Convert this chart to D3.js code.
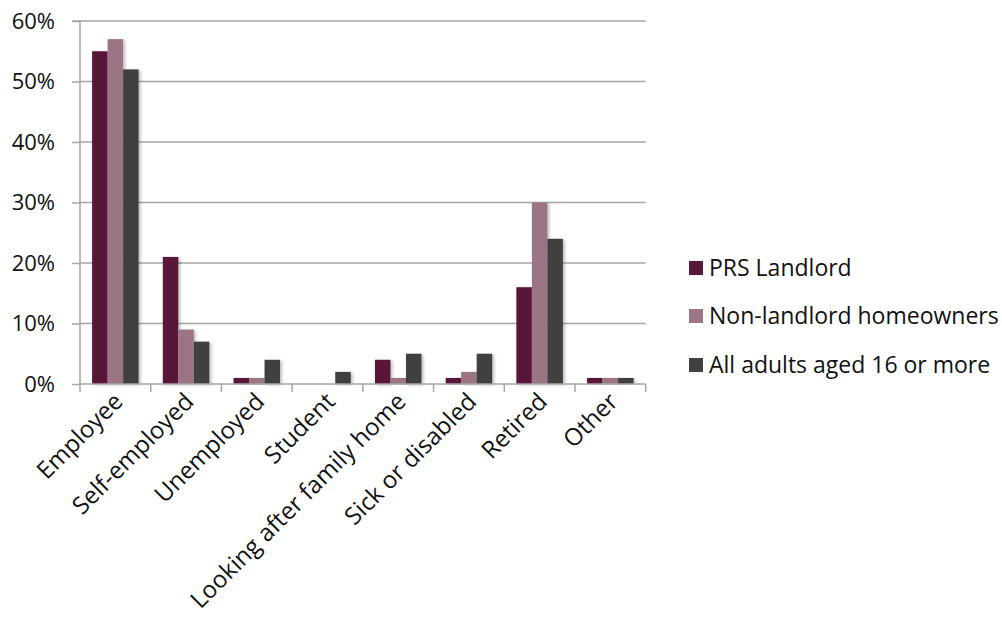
<!DOCTYPE html>
<html>
<head>
<meta charset="utf-8">
<script src="https://cdn.jsdelivr.net/npm/d3@7"></script>
<style>
  html, body { margin: 0; padding: 0; background: #fff; }
  svg { display: block; }
  text { font-family: "Open Sans", "DejaVu Sans", sans-serif; fill: #111; }
</style>
</head>
<body>
<svg id="chart" width="1002" height="619"></svg>
<script>
const categories = ["Employee", "Self-employed", "Unemployed", "Student", "Looking after family home", "Sick or disabled", "Retired", "Other"];
const seriesNames = ["PRS Landlord", "Non-landlord homeowners", "All adults aged 16 or more"];
const prsLandlord = [55, 21, 1, 0, 4, 1, 16, 1];
const nonLandlord = [57, 9, 1, 0, 1, 2, 30, 1];
const allAdults = [52, 7, 4, 2, 5, 5, 24, 1];
const yTicks = [0, 10, 20, 30, 40, 50, 60];
const colors = ["#5a1738", "#9b7586", "#404040"];

(function () {
const seriesValues = [prsLandlord, nonLandlord, allAdults];

const svg = d3.select("#chart");
const mLeft = 80, mRight = 645.7, mTop = 21, mBottom = 384;

const defs = svg.append("defs");
const f = defs.append("filter").attr("id", "shadow").attr("x", "-20%").attr("y", "-5%").attr("width", "160%").attr("height", "120%");
f.append("feDropShadow").attr("dx", 2).attr("dy", 1).attr("stdDeviation", 1.5).attr("flood-color", "#000").attr("flood-opacity", 0.25);

const x0 = d3.scaleBand().domain(categories).range([mLeft, mRight]).padding(0);
const x1 = d3.scaleBand().domain(seriesNames).range([0, x0.bandwidth()]).paddingInner(0).paddingOuter(0.78);
const y = d3.scaleLinear().domain([0, 60]).range([mBottom, mTop]);

// gridlines
svg.append("g").selectAll("line").data(yTicks.filter(t => t > 0)).join("line")
  .attr("x1", mLeft).attr("x2", mRight)
  .attr("y1", d => y(d)).attr("y2", d => y(d))
  .attr("stroke", "#a6a6a6").attr("stroke-width", 1.5);

// y axis
const yAxis = d3.axisLeft(y).tickValues(yTicks).tickSize(8).tickPadding(17).tickFormat(d => d + "%");
const gy = svg.append("g").attr("transform", `translate(${mLeft},0)`).call(yAxis);
gy.select(".domain").attr("stroke", "#a6a6a6").attr("stroke-width", 1.5).attr("d", `M-8,${mTop}H0V${mBottom}`);
gy.selectAll(".tick line").attr("stroke", "#a6a6a6").attr("stroke-width", 1.5);
gy.selectAll(".tick text").attr("font-size", 22).attr("font-family", "Open Sans").attr("fill", "#111");

// bars
const groups = svg.append("g").selectAll("g").data(categories).join("g")
  .attr("transform", d => `translate(${x0(d)},0)`);
groups.selectAll("rect").data((c, i) => seriesNames.map((s, j) => ({ s, v: seriesValues[j][i], j })))
  .join("rect")
  .attr("x", d => x1(d.s))
  .attr("width", x1.bandwidth())
  .attr("y", d => y(d.v))
  .attr("height", d => mBottom - y(d.v))
  .attr("fill", d => colors[d.j])
  .attr("filter", d => d.v > 0 ? "url(#shadow)" : null);

// x axis
const xAxisLine = svg.append("g");
xAxisLine.append("line").attr("x1", mLeft).attr("x2", mRight).attr("y1", mBottom).attr("y2", mBottom)
  .attr("stroke", "#a6a6a6").attr("stroke-width", 1.5);
const boundaries = categories.map(c => x0(c)).concat([mRight]);
xAxisLine.selectAll("line.tk").data(boundaries).join("line").attr("class", "tk")
  .attr("x1", d => d).attr("x2", d => d).attr("y1", mBottom).attr("y2", mBottom + 8)
  .attr("stroke", "#a6a6a6").attr("stroke-width", 1.5);

svg.append("g").selectAll("text").data(categories).join("text")
  .attr("transform", d => `translate(${x0(d) + x0.bandwidth() / 2 + 9},${mBottom + 19}) rotate(-45)`)
  .attr("text-anchor", "end")
  .attr("font-size", 24)
  .text(d => d);

// legend
const legend = svg.append("g").attr("transform", "translate(689,0)");
const ly = [268, 316, 365];
seriesNames.forEach((s, i) => {
  legend.append("rect").attr("x", 0).attr("y", ly[i] - 7).attr("width", 14).attr("height", 14).attr("fill", colors[i]);
  legend.append("text").attr("x", 20).attr("y", ly[i]).attr("dy", "0.35em").attr("font-size", 23).text(s);
});
})();
</script>
</body>
</html>
